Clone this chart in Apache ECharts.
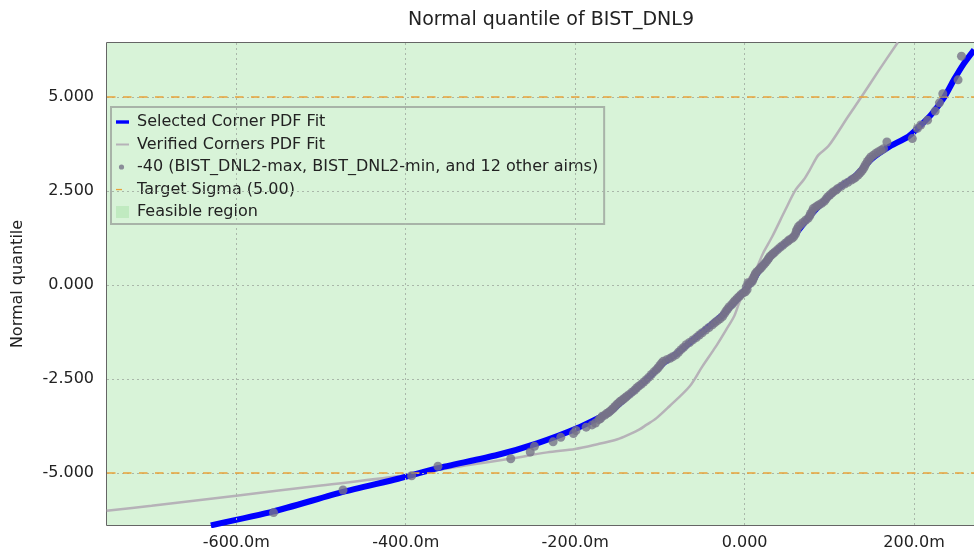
<!DOCTYPE html>
<html>
<head>
<meta charset="utf-8">
<script src="https://cdn.jsdelivr.net/npm/echarts@6/dist/echarts.min.js"></script>
<style>
html,body{margin:0;padding:0;background:#fff;}
#chart{width:974px;height:553px;}
</style>
</head>
<body>
<div id="chart"></div>
<script>
// Axis extents (units: x in milli-units, y in normal quantile)
const xMin = -752.6, xMax = 270.8;
const yMin = -6.38, yMax = 6.43;
const xTicks = [-600, -400, -200, 0, 200];
const yTicks = [-5, -2.5, 0, 2.5, 5];
const targetSigma = [5, -5];

// Selected Corner PDF Fit (blue)
const selectedX = [-630,-556,-474,-409,-362,-292,-245,-198,-159,-140,-116,-96,-81,-54,-26,-9,1,9,20,36,58,75,91,110,130,150,169,193,204,220,236,247,259,271];
const selectedY = [-6.39,-6.02,-5.50,-5.15,-4.87,-4.52,-4.21,-3.81,-3.37,-3.00,-2.52,-2.08,-1.84,-1.33,-0.80,-0.38,-0.12,0.09,0.48,0.88,1.30,1.78,2.17,2.56,2.88,3.35,3.65,3.94,4.16,4.52,5.00,5.45,5.89,6.25];

// Verified Corners PDF Fit (grey)
const verifiedX = [-753,-700,-600,-500,-400,-330,-277,-233,-200,-175,-150,-136,-124,-116,-104,-89,-65,-50,-34,-22,-12.5,-6.6,0,6,13,22,32.5,48,60,70,77,87,99,122,138,157.5,181];
const verifiedY = [-6.00,-5.87,-5.60,-5.33,-5.06,-4.80,-4.62,-4.45,-4.36,-4.24,-4.10,-3.97,-3.84,-3.72,-3.54,-3.23,-2.70,-2.17,-1.64,-1.20,-0.84,-0.49,-0.15,0.20,0.40,0.85,1.28,1.99,2.52,2.80,3.06,3.45,3.69,4.47,5.00,5.67,6.45];

// -40 (...) sample points
const pointsX = [-556,-474,-393,-362,-276,-253,-248,-226,-217,-202,-199,-187,-180,-176,-172,-170,-168,-165,-163,-161,-159,-157,-155,-153,-151,-149,-147,-145,-143,-141,-139,-136,-133,-130,-127.5,-125,-122,-119,-116,-113,-110,-107,-104,-102,-100,-98,-96,-92,-88,-85,-81,-78,-75,-72,-69,-65,-61,-57,-53.5,-50,-46,-42,-38,-35,-32,-29,-26,-24,-22,-20,-18,-15,-13,-11,-8.6,-6,-4,-1,1,2,3,4,5,7,9,10,11,12,13,15,17,19,20.7,23,25,27,28.5,30,32,34,36,39,42,45,48,51,53,56,58,60,61,62,63.5,66,69,72,75,77,78,80,81,84,86,88,91,94,96,98,100.6,103,105,108,110,114,118,122,126,129,131,134,136,138,140,141.5,143,145,147,149,152,155,158,161,164,168,198,204,208,216,225,230,234,252,256];
const pointsY = [-6.05,-5.45,-5.07,-4.82,-4.62,-4.44,-4.29,-4.17,-4.05,-3.95,-3.87,-3.78,-3.72,-3.67,-3.58,-3.55,-3.49,-3.46,-3.42,-3.40,-3.36,-3.32,-3.28,-3.23,-3.18,-3.14,-3.10,-3.07,-3.03,-3.00,-2.96,-2.91,-2.85,-2.80,-2.74,-2.69,-2.64,-2.58,-2.52,-2.45,-2.38,-2.31,-2.25,-2.20,-2.14,-2.08,-2.03,-1.99,-1.95,-1.91,-1.86,-1.79,-1.72,-1.66,-1.59,-1.53,-1.46,-1.40,-1.33,-1.27,-1.20,-1.13,-1.06,-1.00,-0.95,-0.90,-0.84,-0.77,-0.70,-0.64,-0.58,-0.52,-0.46,-0.41,-0.35,-0.30,-0.25,-0.20,-0.18,-0.05,-0.12,0.06,0.02,0.05,0.09,0.15,0.20,0.26,0.31,0.36,0.40,0.45,0.49,0.55,0.60,0.66,0.71,0.76,0.80,0.84,0.88,0.94,1.00,1.05,1.11,1.16,1.20,1.24,1.28,1.35,1.42,1.48,1.55,1.60,1.66,1.72,1.77,1.84,1.90,1.96,2.03,2.07,2.10,2.13,2.17,2.22,2.28,2.34,2.39,2.44,2.48,2.52,2.56,2.62,2.68,2.73,2.79,2.83,2.86,2.92,2.97,3.02,3.08,3.14,3.21,3.28,3.34,3.40,3.45,3.50,3.54,3.58,3.62,3.80,3.89,4.16,4.25,4.38,4.62,4.84,5.08,5.45,6.08];

const names = ['Selected Corner PDF Fit','Verified Corners PDF Fit','-40 (BIST_DNL2-max, BIST_DNL2-min, and 12 other aims)','Target Sigma (5.00)','Feasible region'];

const zip = (a, b) => a.map((v, i) => [v, b[i]]);
const FONT = 'DejaVu Sans';

const chart = echarts.init(document.getElementById('chart'), null, {renderer: 'canvas'});
const xFmt = v => (Math.abs(v) < 1e-9 ? '0.000' : v.toFixed(1) + 'm');
const yFmt = v => v.toFixed(3);

chart.setOption({
  animation: false,
  backgroundColor: '#ffffff',
  title: {
    text: 'Normal quantile of BIST_DNL9',
    left: 546, top: 6, textAlign: 'center',
    textStyle: {fontFamily: FONT, fontSize: 19, fontWeight: 'normal', color: '#222'}
  },
  grid: {
    left: 107, right: -6, top: 43, bottom: 28,
    show: true, borderColor: '#333', borderWidth: 1.5, backgroundColor: 'transparent'
  },
  legend: {
    orient: 'vertical', left: 111, top: 107,
    itemWidth: 16, itemHeight: 12, itemGap: 6.5,
    padding: [7, 6, 4, 5],
    borderColor: '#a8b3a8', borderWidth: 2,
    backgroundColor: 'rgba(216,243,216,0.55)',
    selectedMode: false,
    itemStyle: {borderWidth: 0},
    textStyle: {fontFamily: FONT, fontSize: 16, color: '#222', lineHeight: 16},
    data: [
      {name: names[0], icon: 'path://M0,0M16,12M0,4.3h13v3.4h-13z'},
      {name: names[1], icon: 'path://M0,0M16,12M0,5h13v2h-13z'},
      {name: names[2], icon: 'path://M0,0M16,12M2.9,6a2.6,2.6 0 1,0 5.2,0a2.6,2.6 0 1,0 -5.2,0z'},
      {name: names[3], icon: 'path://M0,0M16,12M0,5.4h6v1.3h-6z'},
      {name: names[4], icon: 'path://M0,0M16,12M0,0h13v12h-13z'}
    ]
  },
  xAxis: {
    type: 'value', min: xMin, max: xMax,
    axisLine: {show: false},
    axisTick: {show: true, length: 5, lineStyle: {color: '#333'}, customValues: xTicks},
    axisLabel: {customValues: xTicks, formatter: xFmt, fontFamily: FONT, fontSize: 16, color: '#222', margin: 10},
    splitLine: {show: false}
  },
  yAxis: {
    type: 'value', min: yMin, max: yMax,
    name: 'Normal quantile', nameLocation: 'middle', nameGap: 81,
    nameTextStyle: {fontFamily: FONT, fontSize: 16, color: '#222'},
    axisLine: {show: false},
    axisTick: {show: true, length: 6, lineStyle: {color: '#333'}, customValues: yTicks},
    axisLabel: {customValues: yTicks, formatter: yFmt, fontFamily: FONT, fontSize: 16, color: '#222', margin: 13},
    splitLine: {show: false}
  },
  series: [
    {
      name: names[4], type: 'line', data: [], z: 0, color: '#c0eac0', silent: true,
      markArea: {
        silent: true,
        itemStyle: {color: '#d8f3d8'},
        data: [[{coord: [xMin, yMin]}, {coord: [xMax, yMax]}]]
      }
    },
    {
      name: 'grid', type: 'line', data: [], z: 1, silent: true,
      markLine: {
        silent: true, symbol: ['none', 'none'], label: {show: false},
        lineStyle: {color: '#a9b7a9', type: [2, 3], width: 1},
        data: xTicks.map(v => ({xAxis: v})).concat(yTicks.map(v => ({yAxis: v})))
      }
    },
    {
      name: names[3], type: 'line', data: [], z: 2, color: '#e8a23a', silent: true,
      markLine: {
        silent: true, symbol: ['none', 'none'], label: {show: false},
        lineStyle: {color: '#e8a23a', type: [8.5, 7.5], width: 1.6},
        data: targetSigma.map(v => ({yAxis: v}))
      }
    },
    {
      name: names[1], type: 'line', z: 3, color: '#b6b2b8', showSymbol: false, symbol: 'none',
      smooth: 0.3,
      lineStyle: {color: '#b6b2b8', width: 2.5},
      data: zip(verifiedX, verifiedY)
    },
    {
      name: names[0], type: 'line', z: 4, color: '#0000ff', showSymbol: false, symbol: 'none',
      smooth: 0.2,
      lineStyle: {color: '#0000ff', width: 6},
      data: zip(selectedX, selectedY)
    },
    {
      name: names[2], type: 'scatter', z: 5, color: '#777388', symbolSize: 9,
      itemStyle: {color: '#777388'},
      data: zip(pointsX, pointsY)
    }
  ]
});
</script>
</body>
</html>
